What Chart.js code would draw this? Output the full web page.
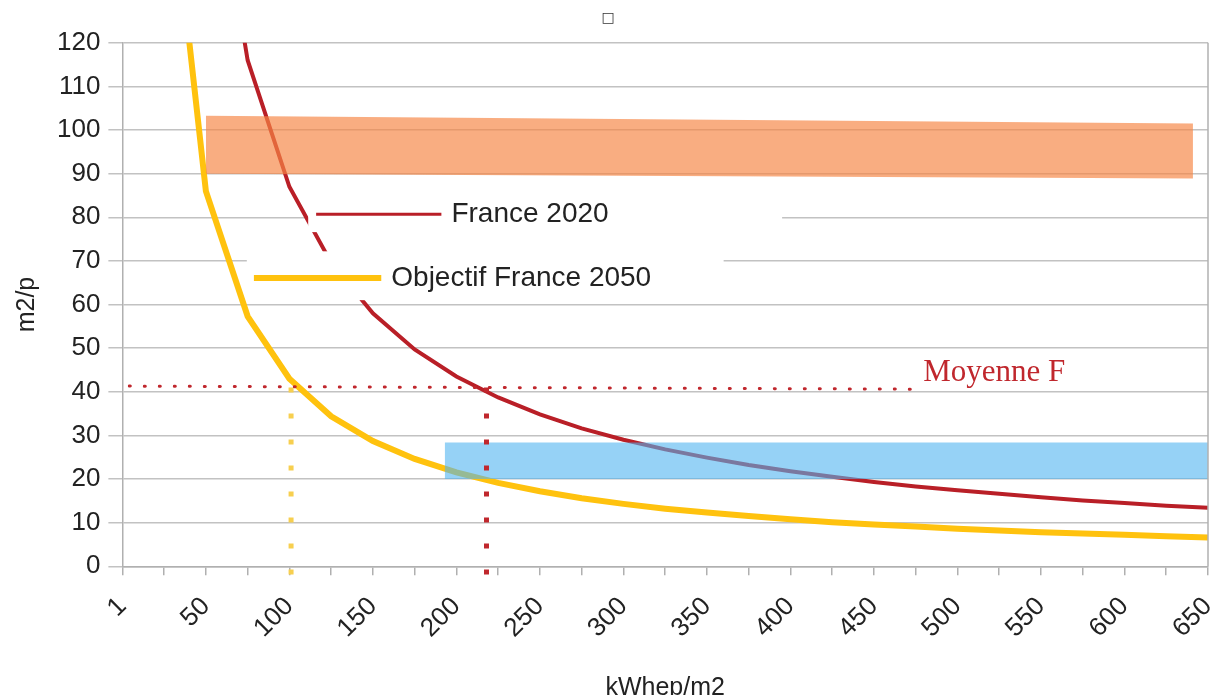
<!DOCTYPE html>
<html lang="fr">
<head>
<meta charset="UTF-8" />
<title>Surface par personne et consommation</title>
<script src="https://cdn.jsdelivr.net/npm/chart.js"></script>
<style>
  html, body { margin: 0; padding: 0; background: #fff; }
</style>
</head>
<body>
<canvas id="graphe" width="1214" height="695"></canvas>
<script>
// abscisses (kWhep/m2), une catégorie tous les 25
const kwh = [1, 25, 50, 75, 100, 125, 150, 175, 200, 225, 250, 275, 300, 325,
  350, 375, 400, 425, 450, 475, 500, 525, 550, 575, 600, 625, 650];

// m2/p (null = hors cadre)
const france2020 = [null, null, 174, 116, 87, 69.6, 58, 49.7, 43.5, 38.7, 34.8, 31.6, 29,
  26.8, 24.9, 23.2, 21.8, 20.5, 19.3, 18.3, 17.4, 16.6, 15.8, 15.1, 14.5, 13.9, 13.4];
const objectif2050 = [null, 172, 86, 57.3, 43, 34.4, 28.7, 24.6, 21.5, 19.1, 17.2, 15.6, 14.3,
  13.2, 12.3, 11.5, 10.8, 10.1, 9.6, 9.1, 8.6, 8.2, 7.8, 7.5, 7.2, 6.9, 6.6];

const yTicks = [0, 120, 10]; // min, max, pas

// zones : [kwh début, kwh fin, haut début, haut fin, bas début, bas fin]
const zoneOrange = [50, 641, 103.3, 101.5, 90, 88.9];
const zoneBleue = [193, 650, 28.4, 28.4, 20, 20];

// moyenne France (pointillés)
const moyenne = [5, 472, 41.3, 40.6];
const repere2050 = [101, 41, -2];
const repere2020 = [218, 41, -2];

// kWh -> position sur l'axe (catégories régulières)
function pos(k) {
  return k <= 25 ? (k - 1) / 24 : k / 25;
}

function serie(vals) {
  return kwh.map((k, i) => ({ x: i, y: vals[i] }));
}

const ROUGE = "#b91f27";
const JAUNE = "#ffc20e";
const POLICE = "'Liberation Sans', Arial, sans-serif";

const datasets = [
  {
    label: "zoneOrange",
    data: [{ x: pos(zoneOrange[0]), y: zoneOrange[2] }, { x: pos(zoneOrange[1]), y: zoneOrange[3] }],
    borderWidth: 0, pointRadius: 0, fill: "+1",
    backgroundColor: "rgba(246,134,69,0.68)", order: 1
  },
  {
    label: "zoneOrangeBas",
    data: [{ x: pos(zoneOrange[0]), y: zoneOrange[4] }, { x: pos(zoneOrange[1]), y: zoneOrange[5] }],
    borderWidth: 0, pointRadius: 0, fill: false, order: 1
  },
  {
    label: "zoneBleue",
    data: [{ x: pos(zoneBleue[0]), y: zoneBleue[2] }, { x: pos(zoneBleue[1]), y: zoneBleue[3] }],
    borderWidth: 0, pointRadius: 0, fill: "+1",
    backgroundColor: "rgba(80,180,240,0.6)", order: 1
  },
  {
    label: "zoneBleueBas",
    data: [{ x: pos(zoneBleue[0]), y: zoneBleue[4] }, { x: pos(zoneBleue[1]), y: zoneBleue[5] }],
    borderWidth: 0, pointRadius: 0, fill: false, order: 1
  },
  {
    label: "France 2020",
    data: serie(france2020),
    borderColor: ROUGE, borderWidth: 4, pointRadius: 0, tension: 0, clip: 0, order: 2
  },
  {
    label: "Objectif France 2050",
    data: serie(objectif2050),
    borderColor: JAUNE, borderWidth: 6, pointRadius: 0, tension: 0, clip: 0, order: 2
  },
  {
    label: "moyenne",
    data: [{ x: pos(moyenne[0]), y: moyenne[2] }, { x: pos(moyenne[1]), y: moyenne[3] }],
    borderColor: "#c0272d", borderWidth: 3, borderDash: [1, 14], borderCapStyle: "round",
    pointRadius: 0, order: 0
  },
  {
    label: "repere2050",
    data: [{ x: pos(repere2050[0]), y: repere2050[1] }, { x: pos(repere2050[0]), y: repere2050[2] }],
    borderColor: "#f7cf4f", borderWidth: 5, borderDash: [5, 21],
    pointRadius: 0, clip: { left: 0, right: 0, top: 0, bottom: 20 }, order: 0
  },
  {
    label: "repere2020",
    data: [{ x: pos(repere2020[0]), y: repere2020[1] }, { x: pos(repere2020[0]), y: repere2020[2] }],
    borderColor: "#c0272d", borderWidth: 5, borderDash: [5, 21],
    pointRadius: 0, clip: { left: 0, right: 0, top: 0, bottom: 20 }, order: 0
  }
];

// légende dans le cadre, bord droit et texte "Moyenne F"
const annotations = {
  id: "annotations",
  afterDatasetsDraw(chart) {
    const ctx = chart.ctx;
    const a = chart.chartArea;
    const x = chart.scales.x, y = chart.scales.y;
    const X = v => x.getPixelForValue(v), Y = v => y.getPixelForValue(v);
    ctx.save();
    ctx.strokeStyle = "#b0b0b0";
    ctx.lineWidth = 1.5;
    ctx.beginPath();
    ctx.moveTo(a.right, a.top);
    ctx.lineTo(a.right, a.bottom);
    ctx.stroke();

    ctx.fillStyle = "#fff";
    ctx.fillRect(X(4.45), Y(85), X(15.8) - X(4.45), Y(76.6) - Y(85));
    ctx.fillRect(X(2.98), Y(72.2), X(14.4) - X(2.98), Y(61) - Y(72.2));

    ctx.lineWidth = 3;
    ctx.strokeStyle = ROUGE;
    ctx.beginPath();
    ctx.moveTo(X(4.64), Y(80.7));
    ctx.lineTo(X(7.64), Y(80.7));
    ctx.stroke();
    ctx.lineWidth = 6;
    ctx.strokeStyle = JAUNE;
    ctx.beginPath();
    ctx.moveTo(X(3.15), Y(66.1));
    ctx.lineTo(X(6.2), Y(66.1));
    ctx.stroke();

    ctx.fillStyle = "#222";
    ctx.font = "28px " + POLICE;
    ctx.textBaseline = "middle";
    ctx.textAlign = "left";
    ctx.fillText("France 2020", X(7.88), Y(80.7));
    ctx.fillText("Objectif France 2050", X(6.44), Y(66.1));

    ctx.fillStyle = "#c0272d";
    ctx.font = "31px 'Liberation Serif', 'Times New Roman', serif";
    ctx.fillText("Moyenne F", X(19.18), Y(44.4));
    ctx.restore();
  }
};

new Chart(document.getElementById("graphe"), {
  type: "line",
  data: { datasets: datasets },
  plugins: [annotations],
  options: {
    responsive: false,
    animation: false,
    devicePixelRatio: 1,
    layout: { padding: { left: 8, right: 6, top: 0, bottom: -8 } },
    plugins: {
      legend: { display: false },
      tooltip: { enabled: false },
      title: {
        display: true, text: "□", color: "#333",
        font: { family: "'DejaVu Sans', sans-serif", size: 14, weight: "normal" },
        padding: { top: 10, bottom: 16 }
      }
    },
    scales: {
      x: {
        type: "linear", min: 0, max: kwh.length - 1,
        // les étiquettes inclinées finissent sur le trait : pas de marge à droite
        afterFit: s => { s.paddingRight = 0; },
        border: { color: "#b0b0b0", width: 1.5 },
        grid: { drawOnChartArea: false, color: "#b0b0b0", lineWidth: 1.5, tickLength: 9 },
        ticks: {
          stepSize: 1, autoSkip: false, minRotation: 45, maxRotation: 45,
          color: "#222", padding: 16,
          font: { family: POLICE, size: 26 },
          callback: v => (Math.round(v) % 2 === 0 ? String(kwh[Math.round(v)]) : "")
        },
        title: {
          display: true, text: "kWhep/m2", color: "#222",
          font: { family: POLICE, size: 25 },
          padding: { top: 13, bottom: 0 }
        }
      },
      y: {
        min: yTicks[0], max: yTicks[1],
        border: { color: "#b0b0b0", width: 1.5 },
        grid: { color: "#c2c2c2", lineWidth: 1.5, tickLength: 14 },
        ticks: {
          stepSize: yTicks[2], color: "#222", padding: 8,
          font: { family: POLICE, size: 26 }
        },
        title: {
          display: true, text: "m2/p", color: "#222",
          font: { family: POLICE, size: 25 },
          padding: { top: 4, bottom: 7 }
        }
      }
    }
  }
});
</script>
</body>
</html>
